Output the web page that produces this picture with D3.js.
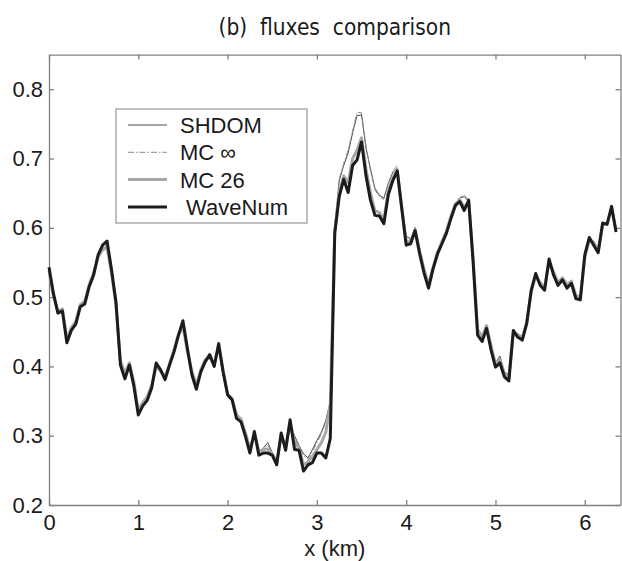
<!DOCTYPE html>
<html>
<head>
<meta charset="utf-8">
<script src="https://cdn.jsdelivr.net/npm/d3@7"></script>
<style>
  body { margin: 0; background: #fff; }
  svg { display: block; }
  .axis path, .axis line { stroke: #808080; stroke-width: 1.3; }
  .axis text { font-family: "Liberation Sans", Arial, sans-serif; font-size: 22px; fill: #1a1a1a; }
  .label { font-family: "Liberation Sans", Arial, sans-serif; font-size: 22px; fill: #1a1a1a; }
  .title { font-family: "Liberation Sans Narrow", "DejaVu Sans Condensed", sans-serif; font-size: 22.5px; fill: #1a1a1a; }
</style>
</head>
<body>
<svg id="chart"></svg>
<script>
// x grid: 128 samples, 0.05 km apart
const xKm = d3.range(128).map(i => i * 0.05);

const waveNum = [
    0.543, 0.505, 0.477, 0.480, 0.434, 0.452, 0.461, 0.486, 0.490, 0.515,
    0.532, 0.561, 0.575, 0.581, 0.540, 0.493, 0.402, 0.382, 0.402, 0.372,
    0.330, 0.343, 0.351, 0.369, 0.405, 0.395, 0.381, 0.402, 0.421, 0.445,
    0.466, 0.426, 0.388, 0.367, 0.392, 0.407, 0.417, 0.400, 0.433, 0.392,
    0.359, 0.352, 0.325, 0.320, 0.299, 0.275, 0.306, 0.272, 0.275, 0.275,
    0.272, 0.258, 0.304, 0.279, 0.323, 0.280, 0.279, 0.249, 0.258, 0.261,
    0.275, 0.275, 0.268, 0.296, 0.592, 0.645, 0.670, 0.651, 0.690, 0.698,
    0.724, 0.675, 0.640, 0.618, 0.617, 0.606, 0.648, 0.668, 0.682, 0.628,
    0.575, 0.577, 0.596, 0.563, 0.535, 0.513, 0.540, 0.562, 0.577, 0.592,
    0.613, 0.632, 0.638, 0.625, 0.640, 0.550, 0.445, 0.436, 0.455, 0.424,
    0.399, 0.405, 0.385, 0.379, 0.452, 0.442, 0.438, 0.462, 0.510, 0.534,
    0.517, 0.510, 0.555, 0.532, 0.517, 0.525, 0.513, 0.520, 0.498, 0.496,
    0.561, 0.586, 0.575, 0.564, 0.607, 0.605, 0.631, 0.594
];

const shdom = [
    0.540, 0.503, 0.480, 0.482, 0.438, 0.455, 0.464, 0.488, 0.493, 0.517,
    0.534, 0.560, 0.570, 0.574, 0.536, 0.490, 0.405, 0.388, 0.404, 0.375,
    0.333, 0.347, 0.354, 0.372, 0.402, 0.394, 0.384, 0.403, 0.423, 0.447,
    0.460, 0.422, 0.392, 0.372, 0.394, 0.410, 0.414, 0.402, 0.430, 0.390,
    0.356, 0.350, 0.327, 0.322, 0.302, 0.280, 0.303, 0.276, 0.282, 0.290,
    0.276, 0.262, 0.300, 0.283, 0.316, 0.300, 0.286, 0.274, 0.268, 0.280,
    0.293, 0.305, 0.322, 0.350, 0.600, 0.668, 0.690, 0.708, 0.737, 0.762,
    0.763, 0.715, 0.685, 0.657, 0.647, 0.643, 0.664, 0.680, 0.686, 0.632,
    0.588, 0.584, 0.600, 0.570, 0.540, 0.520, 0.545, 0.567, 0.580, 0.597,
    0.618, 0.636, 0.643, 0.645, 0.638, 0.560, 0.455, 0.445, 0.458, 0.428,
    0.405, 0.415, 0.392, 0.388, 0.450, 0.445, 0.440, 0.463, 0.508, 0.532,
    0.520, 0.513, 0.552, 0.535, 0.520, 0.527, 0.517, 0.522, 0.502, 0.499,
    0.558, 0.582, 0.578, 0.568, 0.603, 0.607, 0.627, 0.596
];

const mcInf = [
    0.541, 0.504, 0.479, 0.481, 0.437, 0.454, 0.463, 0.487, 0.492, 0.516,
    0.533, 0.561, 0.572, 0.576, 0.537, 0.491, 0.404, 0.386, 0.403, 0.374,
    0.332, 0.346, 0.353, 0.371, 0.403, 0.395, 0.383, 0.402, 0.422, 0.446,
    0.462, 0.423, 0.391, 0.370, 0.393, 0.409, 0.415, 0.401, 0.431, 0.391,
    0.357, 0.351, 0.326, 0.321, 0.301, 0.279, 0.304, 0.275, 0.280, 0.287,
    0.275, 0.261, 0.301, 0.282, 0.318, 0.297, 0.284, 0.271, 0.266, 0.277,
    0.290, 0.302, 0.320, 0.347, 0.603, 0.670, 0.693, 0.712, 0.740, 0.767,
    0.766, 0.718, 0.682, 0.655, 0.645, 0.641, 0.662, 0.683, 0.689, 0.634,
    0.586, 0.582, 0.601, 0.568, 0.539, 0.518, 0.544, 0.566, 0.579, 0.596,
    0.617, 0.635, 0.644, 0.647, 0.640, 0.558, 0.452, 0.443, 0.457, 0.427,
    0.404, 0.412, 0.390, 0.385, 0.451, 0.444, 0.439, 0.462, 0.509, 0.533,
    0.519, 0.512, 0.553, 0.534, 0.519, 0.526, 0.516, 0.521, 0.501, 0.498,
    0.559, 0.584, 0.577, 0.566, 0.605, 0.606, 0.629, 0.595
];

const mc26 = [
    0.538, 0.502, 0.479, 0.483, 0.440, 0.456, 0.465, 0.489, 0.494, 0.518,
    0.535, 0.558, 0.568, 0.572, 0.535, 0.488, 0.408, 0.390, 0.405, 0.378,
    0.336, 0.348, 0.356, 0.373, 0.400, 0.393, 0.385, 0.404, 0.424, 0.446,
    0.458, 0.421, 0.393, 0.373, 0.395, 0.410, 0.413, 0.403, 0.428, 0.394,
    0.360, 0.354, 0.330, 0.324, 0.304, 0.281, 0.302, 0.278, 0.280, 0.281,
    0.274, 0.263, 0.299, 0.284, 0.318, 0.290, 0.282, 0.258, 0.262, 0.270,
    0.280, 0.290, 0.305, 0.345, 0.596, 0.650, 0.675, 0.665, 0.700, 0.712,
    0.730, 0.685, 0.650, 0.625, 0.622, 0.612, 0.652, 0.672, 0.684, 0.630,
    0.580, 0.580, 0.598, 0.567, 0.540, 0.518, 0.543, 0.564, 0.580, 0.595,
    0.616, 0.634, 0.640, 0.630, 0.637, 0.555, 0.452, 0.442, 0.459, 0.430,
    0.403, 0.410, 0.390, 0.385, 0.449, 0.446, 0.441, 0.464, 0.507, 0.530,
    0.521, 0.514, 0.551, 0.536, 0.521, 0.528, 0.518, 0.523, 0.503, 0.500,
    0.557, 0.583, 0.579, 0.567, 0.604, 0.607, 0.628, 0.597
];

const xTicks = [0, 1, 2, 3, 4, 5, 6];
const yTicks = [0.2, 0.3, 0.4, 0.5, 0.6, 0.7, 0.8];
const legendNames = ["SHDOM", "MC \u221E", "MC 26", " WaveNum"];

class FluxChart {

    constructor(_config) {
        this.config = {
            parentElement: _config.parentElement,
            containerWidth: _config.containerWidth || 622,
            containerHeight: _config.containerHeight || 561,
        }
        this.config.margin = _config.margin || { top: 54.6, bottom: 56, right: 1.5, left: 49 }
        this.series = _config.series;
        this.initVis();
        this.render();
    }

    initVis() {
        let vis = this;

        vis.width = vis.config.containerWidth - vis.config.margin.left - vis.config.margin.right;
        vis.height = vis.config.containerHeight - vis.config.margin.top - vis.config.margin.bottom;
        vis.svg = d3.select(vis.config.parentElement)
            .attr('width', vis.config.containerWidth)
            .attr('height', vis.config.containerHeight);

        vis.chart = vis.svg.append('g')
            .attr('transform', `translate(${vis.config.margin.left},${vis.config.margin.top})`);

        vis.xScale = d3.scaleLinear()
            .domain([0, 6.4])
            .range([0, vis.width]);

        vis.yScale = d3.scaleLinear()
            .domain([0.2, 0.85])
            .range([vis.height, 0]);

        vis.line = d3.line()
            .x((d, i) => vis.xScale(xKm[i]))
            .y(d => vis.yScale(d));
    }

    render() {
        let vis = this;

        // ticks point inward, box on all four sides
        vis.chart.append("g")
            .attr("class", "axis")
            .attr("transform", `translate(0,${vis.height})`)
            .call(d3.axisBottom(vis.xScale).tickValues(xTicks).tickSize(-5).tickSizeOuter(0).tickPadding(9)
                .tickFormat(d3.format("d")));

        vis.chart.append("g")
            .attr("class", "axis")
            .call(d3.axisTop(vis.xScale).tickValues(xTicks).tickSize(-5).tickSizeOuter(0).tickFormat(""));

        vis.chart.append("g")
            .attr("class", "axis")
            .call(d3.axisLeft(vis.yScale).tickValues(yTicks).tickSize(-5).tickSizeOuter(0).tickPadding(6)
                .tickFormat(d3.format(".1f")));

        vis.chart.append("g")
            .attr("class", "axis")
            .attr("transform", `translate(${vis.width},0)`)
            .call(d3.axisRight(vis.yScale).tickValues(yTicks).tickSize(-5).tickSizeOuter(0).tickFormat(""));

        vis.chart.append("g")
            .selectAll("path")
            .data(vis.series)
            .join("path")
            .attr("d", d => vis.line(d.values))
            .attr("fill", "none")
            .attr("stroke", d => d.color)
            .attr("stroke-width", d => d.width)
            .attr("stroke-dasharray", d => d.dash)
            .attr("stroke-linejoin", "round");

        vis.svg.append("text")
            .attr("class", "title")
            .attr("x", vis.config.margin.left + vis.width / 2)
            .attr("y", 35)
            .attr("text-anchor", "middle")
            .attr("xml:space", "preserve")
            .text("(b)  fluxes  comparison");

        vis.svg.append("text")
            .attr("class", "label")
            .attr("x", vis.config.margin.left + vis.width / 2)
            .attr("y", 556)
            .attr("text-anchor", "middle")
            .text("x (km)");

        // legend
        let legend = vis.svg.append("g")
            .attr("transform", "translate(116,109)");

        legend.append("rect")
            .attr("width", 191)
            .attr("height", 114)
            .attr("fill", "#fff")
            .attr("stroke", "#808080")
            .attr("stroke-width", 1);

        let rows = legend.selectAll(".row")
            .data(vis.series)
            .join("g")
            .attr("class", "row")
            .attr("transform", (d, i) => `translate(0,${16 + i * 27.3})`);

        rows.append("line")
            .attr("x1", 12).attr("x2", 51)
            .attr("stroke", d => d.color)
            .attr("stroke-width", d => d.width)
            .attr("stroke-dasharray", d => d.dash);

        rows.append("text")
            .attr("class", "label")
            .attr("x", 64)
            .attr("dy", "0.36em")
            .attr("xml:space", "preserve")
            .text((d, i) => legendNames[i]);
    }
}

let fluxChart = new FluxChart({
    parentElement: '#chart',
    series: [
        { values: shdom, color: "#4a4a4a", width: 1, dash: null },
        { values: mcInf, color: "#8a8a8a", width: 1, dash: "6,2,1.5,2" },
        { values: mc26, color: "#a8a8a8", width: 3, dash: null },
        { values: waveNum, color: "#1c1c1c", width: 3, dash: null }
    ]
});
</script>
</body>
</html>
